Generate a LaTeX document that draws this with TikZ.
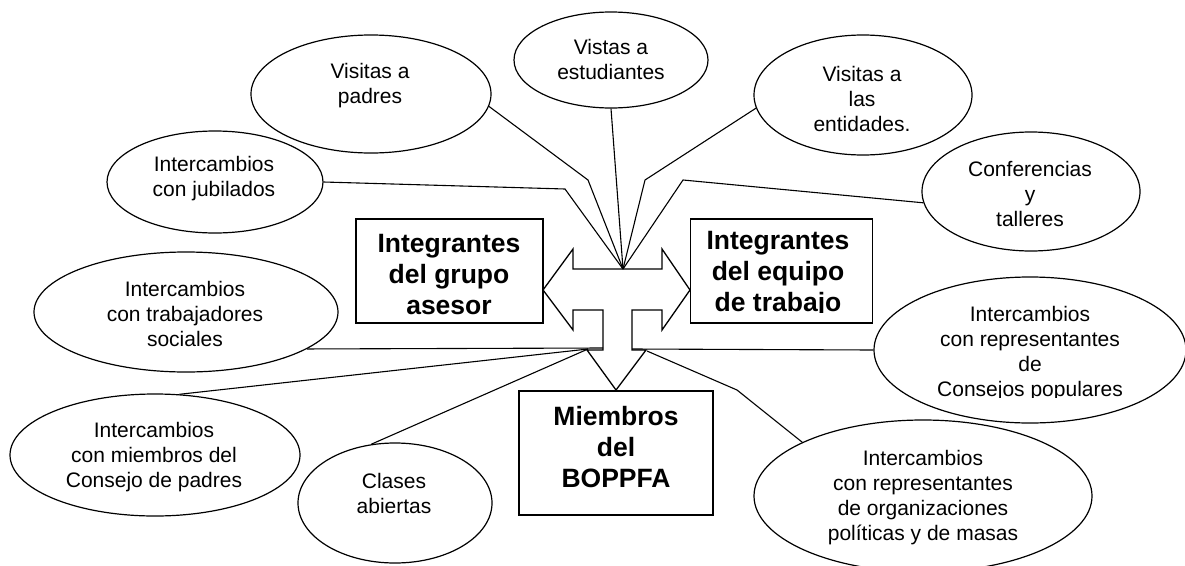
\documentclass[tikz,border=0pt]{standalone}
\usepackage{fontspec}
\setmainfont{Liberation Sans}
\usetikzlibrary{shapes.geometric}
\begin{document}
\begin{tikzpicture}[x=1pt,y=-1pt,line width=1.1pt,
  ell/.style={draw,ellipse,inner sep=0pt,line width=1.2pt},
  etxt/.style={align=center,font=\fontsize{21}{25}\selectfont,inner sep=0pt},
  bx/.style={draw,rectangle,inner sep=0pt,line width=1.4pt},
  btxt/.style={align=center,font=\fontsize{26.5}{31}\selectfont\bfseries,inner sep=0pt},
  conn/.style={line width=1.1pt}]
\useasboundingbox (0,0) rectangle (1185,565);

% ellipses
\node[ell,minimum width=240pt,minimum height=118pt] (padres) at (371,94) {};
\node[etxt] (padresT) at (370,85.5) {Visitas a\\padres};
\node[ell,minimum width=194pt,minimum height=96pt] (est) at (611,60) {};
\node[etxt] (estT) at (611,59.5) {Vistas a\\estudiantes};
\node[ell,minimum width=218pt,minimum height=120pt] (ent) at (863,95) {};
\node[etxt] (entT) at (862,98.5) {Visitas a\\las\\entidades.};
\node[ell,minimum width=216pt,minimum height=102pt] (jub) at (215,182) {};
\node[etxt] (jubT) at (214,178.5) {Intercambios\\con jubilados};
\node[ell,minimum width=218pt,minimum height=119pt] (conf) at (1031,191.5) {};
\node[etxt] (confT) at (1030,193.5) {Conferencias\\y\\talleres};
\node[ell,minimum width=304pt,minimum height=120pt] (trab) at (186,312) {};
\node[etxt] (trabT) at (185,313.5) {Intercambios\\con trabajadores\\sociales};
\node[ell,minimum width=290pt,minimum height=122pt] (cons) at (155,455) {};
\node[etxt] (consT) at (154,457.5) {Intercambios\\con miembros del\\Consejo de padres};
\node[ell,minimum width=194pt,minimum height=120pt] (clases) at (395,503) {};
\node[etxt] (clasesT) at (394,493) {Clases\\abiertas};
\node[ell,minimum width=312pt,minimum height=146pt] (pop) at (1030,350) {};
\begin{scope}
\clip (880,290) rectangle (1180,397);
\node[etxt] (popT) at (1030,353.6) {Intercambios\\con representantes\\de\\Consejos populares};
\end{scope}
\node[ell,minimum width=338pt,minimum height=152pt] (org) at (923,496) {};
\node[etxt] (orgT) at (923,498) {Intercambios\\con representantes\\de organizaciones\\políticas y de masas};

% boxes
\node[bx,minimum width=187pt,minimum height=104pt] (asesor) at (449.5,271) {};
\node[btxt] (asesorT) at (449,275) {Integrantes\\del grupo\\asesor};
\node[bx,minimum width=182pt,minimum height=104pt] (equipo) at (781.5,271) {};
\begin{scope}
\clip (695,225) rectangle (868,312.5);
\node[btxt] (equipoT) at (778,274.3) {Integrantes\\del equipo\\de trabajo};
\end{scope}
\node[bx,minimum width=194pt,minimum height=124pt] (bop) at (616,453) {};
\node[btxt] (bopT) at (616,447.5) {Miembros\\del\\BOPPFA};

% central arrow
\draw[line width=1.3pt,line join=miter] (543,290) -- (573,249) -- (573,269) -- (662,269) -- (662,249) -- (690,290)
  -- (662,330) -- (662,310) -- (632,310) -- (632,350) -- (646,350) -- (616,390) -- (587,350)
  -- (603,350) -- (603,310) -- (573,310) -- (573,330) -- cycle;

\coordinate (ctop) at (623,269);
\coordinate (cleft) at (603,348);
\coordinate (clow) at (588,349);
\coordinate (cright) at (632,349);
\coordinate (cdown) at (647,351);
\coordinate (bpad) at (588,180);
\coordinate (bent) at (645,180);
\coordinate (bjub) at (565,189);
\coordinate (bconf) at (683,180);
\coordinate (borg) at (737,390);

% connectors
\draw[conn] (padres.-6) -- (bpad) -- (ctop);
\draw[conn] (est.south) -- (ctop);
\draw[conn] (ent.187) -- (bent) -- (ctop);
\draw[conn] (jub.east) -- (bjub) -- (ctop);
\draw[conn] (conf.186) -- (bconf) -- (ctop);
\draw[conn] (trab.-17) -- (cleft);
\draw[conn] (cons.68) -- (clow);
\draw[conn] (clases.112) -- (clow);
\draw[conn] (pop.west) -- (cright);
\draw[conn] (org.156) -- (borg) -- (cdown);
\end{tikzpicture}
\end{document}
